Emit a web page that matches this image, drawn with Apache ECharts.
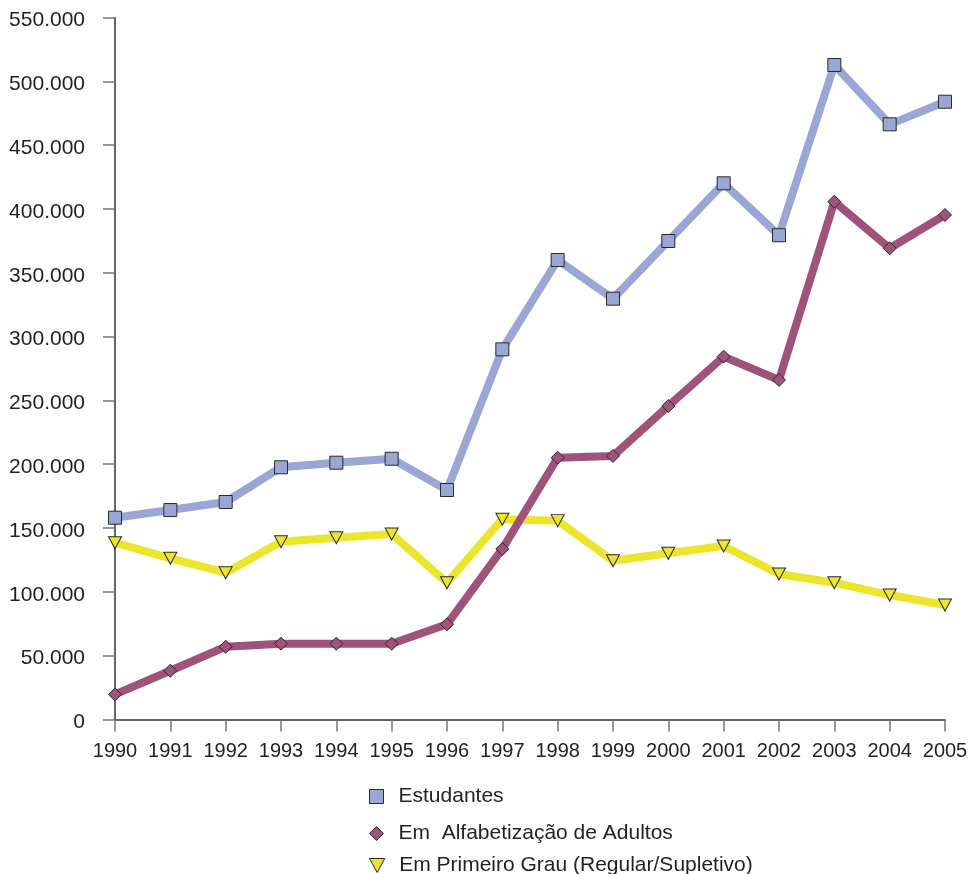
<!DOCTYPE html>
<html>
<head>
<meta charset="utf-8">
<script src="https://cdn.jsdelivr.net/npm/echarts@6/dist/echarts.min.js"></script>
<style>
html,body{margin:0;padding:0;background:#fff;}
#chart{width:971px;height:874px;}
</style>
</head>
<body>
<div id="chart"></div>
<script>
const years = ['1990','1991','1992','1993','1994','1995','1996','1997','1998','1999','2000','2001','2002','2003','2004','2005'];
const estudantes = [158100,164100,170400,197600,201200,204300,179800,290000,360000,329700,374900,420100,379400,512800,466300,484000];
const alfabetizacao = [19700,38200,57000,59400,59400,59400,74600,133600,205100,206500,245600,284300,266000,405700,369200,395300];
const primeiroGrau = [138500,126300,115000,139300,142400,145300,107200,156900,155800,124400,130200,135900,114000,107200,97500,89700];
const names = ['Estudantes','Em  Alfabetização de Adultos','Em Primeiro Grau (Regular/Supletivo)'];

const FONT = '"Liberation Sans", Arial, sans-serif';
const cBlue = '#9aa7d5', cRed = '#a0537a', cYel = '#ebe52c';
const border = '#2a2a2a';

function fmt(v){
  return String(v).replace(/\B(?=(\d{3})+(?!\d))/g,'.');
}
function legend(name, icon, color, top){
  return {
    orient:'vertical', left:369, top:top, padding:0,
    itemWidth:34, itemHeight:14,
    textStyle:{fontFamily:FONT,fontSize:21,color:'#231f20',lineHeight:20},
    selectedMode:false,
    data:[{name:name, icon:icon, itemStyle:{color:color,borderColor:border,borderWidth:1}}]
  };
}

const chart = echarts.init(document.getElementById('chart'));
chart.setOption({
  animation:false,
  backgroundColor:'#fff',
  grid:{left:115,right:26,top:17.5,bottom:154.5,containLabel:false},
  legend:[
    legend(names[0],'path://M0,0H10V10H0Z',cBlue,786),
    legend(names[1],'path://M5,0L10,5L5,10L0,5Z',cRed,823),
    legend(names[2],'path://M0,0L12,0L6,11Z',cYel,855)
  ],
  xAxis:{
    type:'category', data:years, boundaryGap:false,
    axisLine:{lineStyle:{color:'#333',width:1.5}},
    axisTick:{length:12,lineStyle:{color:'#777',width:1.5}},
    axisLabel:{fontFamily:FONT,fontSize:20,color:'#231f20',margin:22,interval:0}
  },
  yAxis:{
    type:'value', min:0, max:550000, interval:50000,
    splitLine:{show:false},
    axisLine:{show:true,lineStyle:{color:'#333',width:1.5}},
    axisTick:{show:true,length:12,lineStyle:{color:'#777',width:1.5}},
    axisLabel:{fontFamily:FONT,fontSize:21,color:'#231f20',margin:30,verticalAlign:'top',lineHeight:6,formatter:fmt}
  },
  series:[
    {name:names[0],type:'line',data:estudantes,symbol:'rect',symbolSize:13,
     lineStyle:{color:cBlue,width:8},
     itemStyle:{color:cBlue,borderColor:border,borderWidth:1}},
    {name:names[2],type:'line',data:primeiroGrau,symbol:'triangle',symbolRotate:180,symbolSize:[13,12],
     lineStyle:{color:cYel,width:8},
     itemStyle:{color:cYel,borderColor:border,borderWidth:1}},
    {name:names[1],type:'line',data:alfabetizacao,symbol:'diamond',symbolSize:13,
     lineStyle:{color:cRed,width:8},
     itemStyle:{color:cRed,borderColor:border,borderWidth:1}}
  ]
});
</script>
</body>
</html>
